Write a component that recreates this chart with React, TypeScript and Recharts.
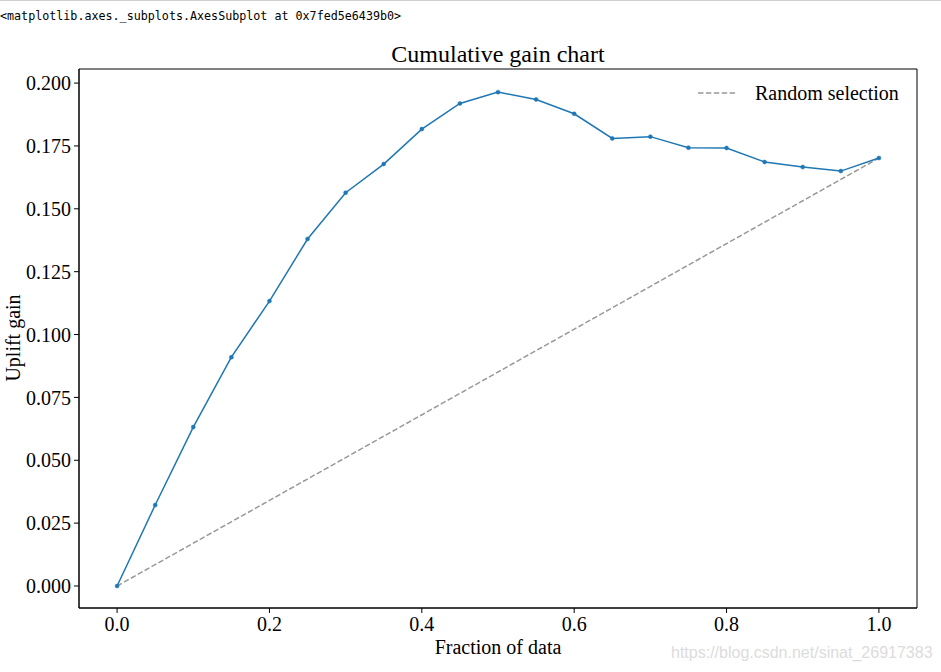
import React from "react";
import {
  LineChart,
  Line,
  XAxis,
  YAxis,
  ReferenceArea,
} from "recharts";

const fractions = [0, 0.05, 0.1, 0.15, 0.2, 0.25, 0.3, 0.35, 0.4, 0.45, 0.5, 0.55, 0.6, 0.65, 0.7, 0.75, 0.8, 0.85, 0.9, 0.95, 1.0];
const upliftGain = [0, 0.0322, 0.0632, 0.091, 0.1133, 0.138, 0.1564, 0.1678, 0.1817, 0.1919, 0.1964, 0.1935, 0.1878, 0.178, 0.1787, 0.1743, 0.1742, 0.1686, 0.1666, 0.165, 0.1702];
const randomX = [0, 1];
const randomY = [0, 0.1702];
const xTicks = [0, 0.2, 0.4, 0.6, 0.8, 1.0];
const yTicks = [0, 0.025, 0.05, 0.075, 0.1, 0.125, 0.15, 0.175, 0.2];

const gainData = fractions.map((x, i) => ({ x, gain: upliftGain[i] }));
const randomData = randomX.map((x, i) => ({ x, random: randomY[i] }));

const SERIF = "'Liberation Serif', 'Times New Roman', serif";

export default function App() {
  return (
    <div style={{ position: "absolute", left: 0, top: 0, width: 941, height: 672, background: "#fff", overflow: "hidden" }}>
      <div style={{ position: "absolute", left: 0, top: 0, width: 941, height: 1, background: "#d0d0d0" }} />
      <div
        style={{
          position: "absolute",
          left: 0,
          top: 9,
          fontFamily: "'DejaVu Sans Mono', monospace",
          fontSize: 11.7,
          color: "#000",
          whiteSpace: "pre",
        }}
      >
        {"<matplotlib.axes._subplots.AxesSubplot at 0x7fed5e6439b0>"}
      </div>
      <div style={{ position: "absolute", left: 0, top: 0 }}>
        <LineChart
          width={941}
          height={672}
          margin={{ top: 69, right: 24, bottom: 0, left: 0 }}
        >
          <XAxis
            dataKey="x"
            type="number"
            domain={[-0.05, 1.05]}
            ticks={xTicks}
            tickFormatter={(v: number) => v.toFixed(1)}
            allowDuplicatedCategory={false}
            height={64}
            axisLine={{ stroke: "#000", strokeWidth: 1 }}
            tickLine={{ stroke: "#000" }}
            tickSize={5}
            tick={{ fontFamily: SERIF, fontSize: 20, fill: "#000", dy: 2 }}
          />
          <YAxis
            type="number"
            domain={[-0.00875, 0.2056]}
            ticks={yTicks}
            tickFormatter={(v: number) => v.toFixed(3)}
            width={79}
            axisLine={{ stroke: "#000", strokeWidth: 1 }}
            tickLine={{ stroke: "#000" }}
            tickSize={5}
            tick={{ fontFamily: SERIF, fontSize: 20, fill: "#000", dx: -1 }}
          />
          <ReferenceArea
            x1={-0.05}
            x2={1.05}
            y1={-0.00875}
            y2={0.2056}
            fill="none"
            fillOpacity={0}
            stroke="#000"
            strokeWidth={1}
            ifOverflow="visible"
          />
          <Line
            data={randomData}
            dataKey="random"
            type="linear"
            stroke="#999999"
            strokeWidth={1.5}
            strokeDasharray="5.5 2.4"
            dot={false}
            activeDot={false}
            isAnimationActive={false}
          />
          <Line
            data={gainData}
            dataKey="gain"
            type="linear"
            stroke="#1f77b4"
            strokeWidth={1.5}
            dot={{ r: 2, fill: "#1f77b4", stroke: "#1f77b4", strokeWidth: 0.5 }}
            activeDot={false}
            legendType="none"
            isAnimationActive={false}
          />
          <text x={498} y={54} textAnchor="middle" dominantBaseline="central" fontFamily={SERIF} fontSize={24} fill="#000">
            Cumulative gain chart
          </text>
          <text x={498} y={647} textAnchor="middle" dominantBaseline="central" fontFamily={SERIF} fontSize={20} fill="#000">
            Fraction of data
          </text>
          <text
            x={13}
            y={338}
            textAnchor="middle"
            dominantBaseline="central"
            fontFamily={SERIF}
            fontSize={20}
            fill="#000"
            transform="rotate(-90 13 338)"
          >
            Uplift gain
          </text>
          <line x1={698} y1={93} x2={737} y2={93} stroke="#999999" strokeWidth={1.5} strokeDasharray="5.5 2.4" />
          <text x={755} y={93} dominantBaseline="central" fontFamily={SERIF} fontSize={20} fill="#000">
            Random selection
          </text>
        </LineChart>
      </div>
      <div
        style={{
          position: "absolute",
          left: 671,
          top: 644,
          fontFamily: "'Liberation Sans Narrow', 'Liberation Sans', Arial, sans-serif",
          fontSize: 16,
          color: "#dcdcdc",
          whiteSpace: "pre",
        }}
      >
        https://blog.csdn.net/sinat_26917383
      </div>
    </div>
  );
}
